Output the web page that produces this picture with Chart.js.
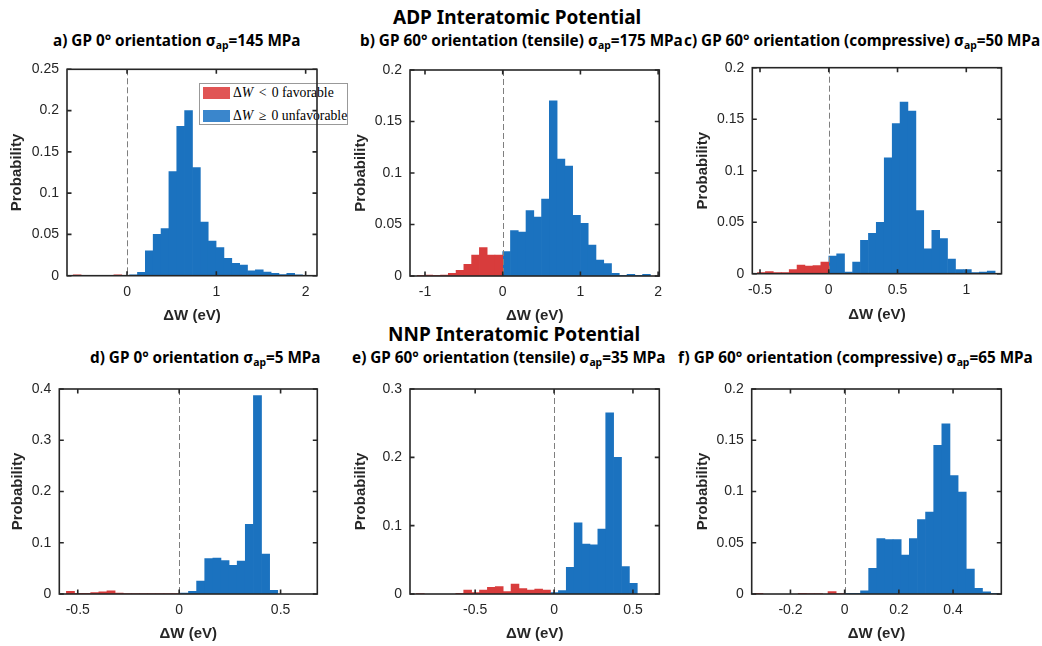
<!DOCTYPE html>
<html>
<head>
<meta charset="utf-8">
<script src="https://cdn.jsdelivr.net/npm/chart.js@4.4.1/dist/chart.umd.min.js"></script>
<style>
  body { margin: 0; background: #fff; width: 1042px; height: 646px; position: relative; overflow: hidden; font-family: 'Noto Sans', sans-serif; }
  canvas { position: absolute; z-index: 2; }
  .t { position: absolute; white-space: nowrap; font-weight: bold; color: #000; line-height: 20px; }
  .h { font-size: 19px; }
  .s { font-size: 15.3px; }
  .t sub { font-size: 68%; vertical-align: -3px; line-height: 0; }
  #leg { position: absolute; left: 199px; top: 83px; width: 147px; height: 40px; border: 1px solid #999; background: #fff; z-index: 1;
         font-family: 'Liberation Serif', serif; font-size: 13.7px; color: #000; }
  #leg .sw { position: absolute; left: 3px; width: 27px; height: 12px; }
  #leg .lt { position: absolute; left: 33px; line-height: 16px; white-space: nowrap; }
  #leg .rel { padding: 0 2px; }
</style>
</head>
<body>

<div class="t h" style="left:393px; top:7px">ADP Interatomic Potential</div>
<div class="t s" style="left:53px; top:30px">a) GP 0° orientation σ<sub>ap</sub>=145 MPa</div>
<div class="t s" style="left:360px; top:30px">b) GP 60° orientation (tensile) σ<sub>ap</sub>=175 MPa</div>
<div class="t s" style="left:684px; top:30px">c) GP 60° orientation (compressive) σ<sub>ap</sub>=50 MPa</div>

<div class="t h" style="left:388px; top:324px">NNP Interatomic Potential</div>
<div class="t s" style="left:90px; top:347px">d) GP 0° orientation σ<sub>ap</sub>=5 MPa</div>
<div class="t s" style="left:352px; top:347px">e) GP 60° orientation (tensile) σ<sub>ap</sub>=35 MPa</div>
<div class="t s" style="left:678px; top:347px">f) GP 60° orientation (compressive) σ<sub>ap</sub>=65 MPa</div>

<div id="leg">
  <span class="sw" style="top:3px; background:#e05454"></span>
  <span class="lt" style="top:1px">Δ<i>W</i> <span class="rel">&lt;</span> 0 favorable</span>
  <span class="sw" style="top:26px; background:#3a86cc"></span>
  <span class="lt" style="top:24px">Δ<i>W</i> <span class="rel">≥</span> 0 unfavorable</span>
</div>

<canvas id="pa" width="345" height="280" style="left:0; top:50px"></canvas>
<canvas id="pb" width="345" height="280" style="left:345px; top:50px"></canvas>
<canvas id="pc" width="352" height="280" style="left:690px; top:50px"></canvas>
<canvas id="pd" width="345" height="276" style="left:0; top:370px"></canvas>
<canvas id="pe" width="345" height="276" style="left:345px; top:370px"></canvas>
<canvas id="pf" width="352" height="276" style="left:690px; top:370px"></canvas>

<script>
// bin centres (eV) and probabilities, red = dW<0, blue = dW>=0

// a) ADP, GP 0 deg, 145 MPa
var aRedX = [-0.558, -0.103];
var aRedY = [0.001, 0.001];
var aBlueX = [0.073, 0.161, 0.249, 0.337, 0.425, 0.513, 0.601, 0.689, 0.777, 0.865, 0.953, 1.041, 1.129, 1.217, 1.305, 1.393, 1.481, 1.569, 1.657, 1.745, 1.833, 1.921];
var aBlueY = [0.001, 0.004, 0.030, 0.050, 0.057, 0.126, 0.181, 0.200, 0.131, 0.065, 0.042, 0.034, 0.021, 0.015, 0.013, 0.006, 0.007, 0.0045, 0.003, 0.0015, 0.003, 0.001];
var aXTicks = [0, 1, 2];
var aYTicks = [0, 0.05, 0.1, 0.15, 0.2, 0.25];

// b) ADP, GP 60 deg tensile, 175 MPa
var bRedX = [-1.05, -0.95, -0.85, -0.75, -0.65, -0.55, -0.45, -0.35, -0.25, -0.15, -0.05];
var bRedY = [0.0006, 0.001, 0.0006, 0.001, 0.0026, 0.0055, 0.0113, 0.0204, 0.0275, 0.0204, 0.0204];
var bBlueX = [0.05, 0.15, 0.25, 0.35, 0.45, 0.55, 0.65, 0.75, 0.85, 0.95, 1.05, 1.15, 1.25, 1.35, 1.45, 1.55, 1.65, 1.75, 1.85];
var bBlueY = [0.0236, 0.044, 0.0427, 0.0634, 0.0573, 0.0748, 0.170, 0.1136, 0.1068, 0.0589, 0.0511, 0.030, 0.0155, 0.012, 0.0026, 0.0006, 0.0016, 0.0006, 0.0016];
var bXTicks = [-1, 0, 1, 2];
var bYTicks = [0, 0.05, 0.1, 0.15, 0.2];

// c) ADP, GP 60 deg compressive, 50 MPa
var cRedX = [-0.490, -0.432, -0.374, -0.317, -0.259, -0.202, -0.144, -0.086, -0.029];
var cRedY = [0.001, 0.002, 0.001, 0.001, 0.0039, 0.0084, 0.0074, 0.008, 0.0113];
var cBlueX = [0.029, 0.086, 0.144, 0.202, 0.259, 0.317, 0.374, 0.432, 0.490, 0.547, 0.605, 0.662, 0.720, 0.778, 0.835, 0.893, 0.950, 1.008, 1.066, 1.123, 1.181];
var cBlueY = [0.0171, 0.0194, 0.0016, 0.0113, 0.0323, 0.0391, 0.0498, 0.1124, 0.1457, 0.1667, 0.158, 0.0614, 0.0242, 0.042, 0.0342, 0.0142, 0.0039, 0.0039, 0.001, 0.0016, 0.0026];
var cXTicks = [-0.5, 0, 0.5, 1];
var cYTicks = [0, 0.05, 0.1, 0.15, 0.2];

// d) NNP, GP 0 deg, 5 MPa
var dRedX = [-0.536, -0.496, -0.456, -0.416, -0.376, -0.336, -0.296, -0.256, -0.216, -0.176, -0.136, -0.095, -0.055, -0.015];
var dRedY = [0.005, 0.0013, 0.0013, 0.003, 0.004, 0.006, 0.002, 0.0007, 0.0007, 0.001, 0.0007, 0.001, 0.0007, 0.001];
var dBlueX = [0.026, 0.066, 0.106, 0.146, 0.186, 0.226, 0.266, 0.306, 0.346, 0.386, 0.426, 0.466];
var dBlueY = [0.002, 0.005, 0.025, 0.069, 0.070, 0.065, 0.056, 0.064, 0.136, 0.387, 0.078, 0.007];
var dXTicks = [-0.5, 0, 0.5];
var dYTicks = [0, 0.1, 0.2, 0.3, 0.4];

// e) NNP, GP 60 deg tensile, 35 MPa
var eRedX = [-0.8475, -0.5975, -0.5475, -0.4975, -0.4475, -0.3975, -0.3475, -0.2975, -0.2475, -0.1975, -0.1475, -0.0975, -0.0475];
var eRedY = [0.0007, 0.001, 0.0059, 0.002, 0.0059, 0.0098, 0.011, 0.0034, 0.0146, 0.0078, 0.0059, 0.0073, 0.0059];
var eBlueX = [0.0025, 0.0525, 0.1025, 0.1525, 0.2025, 0.2525, 0.3025, 0.3525, 0.4025, 0.4525, 0.5025];
var eBlueY = [0.002, 0.005, 0.039, 0.104, 0.073, 0.072, 0.095, 0.265, 0.200, 0.040, 0.0156];
var eXTicks = [-0.5, 0, 0.5];
var eYTicks = [0, 0.1, 0.2, 0.3];

// f) NNP, GP 60 deg compressive, 65 MPa
var fRedX = [-0.3164, -0.1564, -0.1264, -0.0964, -0.0464, -0.0164];
var fRedY = [0.0007, 0.0007, 0.0005, 0.0005, 0.0023, 0.0005];
var fBlueX = [0.0136, 0.0436, 0.0736, 0.1036, 0.1336, 0.1636, 0.1936, 0.2236, 0.2536, 0.2836, 0.3136, 0.3436, 0.3736, 0.4036, 0.4336, 0.4636, 0.4936, 0.5236, 0.5536];
var fBlueY = [0.0007, 0.0007, 0.003, 0.025, 0.054, 0.053, 0.053, 0.038, 0.054, 0.0725, 0.080, 0.145, 0.166, 0.1155, 0.0995, 0.0244, 0.0055, 0.002, 0.0007];
var fXTicks = [-0.2, 0, 0.2, 0.4];
var fYTicks = [0, 0.05, 0.1, 0.15, 0.2];

// layout: canvas box (cx, cy, cw, ch) and plot box (l, t, r, b) in page pixels
var panels = [
  { id: 'pa', rx: aRedX, ry: aRedY, bx: aBlueX, by: aBlueY, xt: aXTicks, yt: aYTicks, xmin: -0.672, xmax: 2.127,
    cx: 0, cy: 50, cw: 345, ch: 280, l: 67, t: 69.3, r: 317, b: 275.7, ytPad: 8, xtPad: 5 },
  { id: 'pb', rx: bRedX, ry: bRedY, bx: bBlueX, by: bBlueY, xt: bXTicks, yt: bYTicks, xmin: -1.193, xmax: 2.015,
    cx: 345, cy: 50, cw: 345, ch: 280, l: 410, t: 70, r: 659.3, b: 276, ytPad: 7, xtPad: 5 },
  { id: 'pc', rx: cRedX, ry: cRedY, bx: cBlueX, by: cBlueY, xt: cXTicks, yt: cYTicks, xmin: -0.556, xmax: 1.256,
    cx: 690, cy: 50, cw: 352, ch: 280, l: 752.3, t: 67.7, r: 1001.5, b: 273.7, ytPad: 4, xtPad: 6 },
  { id: 'pd', rx: dRedX, ry: dRedY, bx: dBlueX, by: dBlueY, xt: dXTicks, yt: dYTicks, xmin: -0.591, xmax: 0.681,
    cx: 0, cy: 370, cw: 345, ch: 276, l: 59.3, t: 389, r: 317.3, b: 594, ytPad: 8.5, xtPad: 3 },
  { id: 'pe', rx: eRedX, ry: eRedY, bx: eBlueX, by: eBlueY, xt: eXTicks, yt: eYTicks, xmin: -0.913, xmax: 0.667,
    cx: 345, cy: 370, cw: 345, ch: 276, l: 410, t: 389, r: 659.3, b: 594, ytPad: 7, xtPad: 3 },
  { id: 'pf', rx: fRedX, ry: fRedY, bx: fBlueX, by: fBlueY, xt: fXTicks, yt: fYTicks, xmin: -0.343, xmax: 0.578,
    cx: 690, cy: 370, cw: 352, ch: 276, l: 751.7, t: 389, r: 1001.3, b: 594, ytPad: 4, xtPad: 3 }
];

var INK = '#262626';

// box, inward ticks on all four sides, dashed line at dW = 0
var framePlugin = {
  id: 'frame',
  afterDatasetsDraw: function (chart) {
    var ctx = chart.ctx, a = chart.chartArea, x = chart.scales.x, y = chart.scales.y;
    ctx.save();
    var x0 = Math.round(x.getPixelForValue(0)) + 0.5;
    ctx.strokeStyle = '#7f7f7f';
    ctx.lineWidth = 1;
    ctx.setLineDash([6, 3]);
    ctx.beginPath();
    ctx.moveTo(x0, a.top);
    ctx.lineTo(x0, a.bottom);
    ctx.stroke();
    ctx.setLineDash([]);
    ctx.strokeStyle = INK;
    ctx.lineWidth = 1.6;
    ctx.strokeRect(a.left, a.top, a.right - a.left, a.bottom - a.top);
    ctx.beginPath();
    x.ticks.forEach(function (t) {
      var px = x.getPixelForValue(t.value);
      ctx.moveTo(px, a.bottom); ctx.lineTo(px, a.bottom - 4.5);
      ctx.moveTo(px, a.top); ctx.lineTo(px, a.top + 4.5);
    });
    y.ticks.forEach(function (t) {
      var py = y.getPixelForValue(t.value);
      ctx.moveTo(a.left, py); ctx.lineTo(a.left + 4.5, py);
      ctx.moveTo(a.right, py); ctx.lineTo(a.right - 4.5, py);
    });
    ctx.stroke();
    ctx.restore();
  }
};

function pts(xs, ys) {
  return xs.map(function (v, i) { return { x: v, y: ys[i] }; });
}

function fmt(v) { return String(+Number(v).toFixed(3)); }

panels.forEach(function (p) {
  new Chart(document.getElementById(p.id), {
    type: 'bar',
    data: {
      datasets: [
        { label: 'ΔW < 0 favorable', data: pts(p.rx, p.ry), backgroundColor: '#d83c3c', grouped: false,
          barPercentage: 1, categoryPercentage: 1, borderWidth: 0 },
        { label: 'ΔW ≥ 0 unfavorable', data: pts(p.bx, p.by), backgroundColor: '#1b72bf', grouped: false,
          barPercentage: 1, categoryPercentage: 1, borderWidth: 0 }
      ]
    },
    options: {
      responsive: false,
      animation: false,
      devicePixelRatio: 1,
      layout: { padding: { left: 0, top: p.t - p.cy, right: p.cx + p.cw - p.r, bottom: 0 } },
      plugins: { legend: { display: false }, tooltip: { enabled: false } },
      scales: {
        x: {
          type: 'linear', offset: false, min: p.xmin, max: p.xmax,
          grid: { display: false, drawTicks: false, tickLength: 0 },
          border: { display: false },
          afterBuildTicks: function (s) { s.ticks = p.xt.map(function (v) { return { value: v }; }); },
          afterFit: function (s) { s.height = p.cy + p.ch - p.b; },
          ticks: { autoSkip: false, maxRotation: 0, padding: 8, color: INK, callback: fmt,
                   font: { family: 'Liberation Sans', size: 14 } },
          title: { display: true, text: 'ΔW (eV)', color: INK, padding: { top: 0, bottom: p.xtPad },
                   font: { family: 'Liberation Sans', size: 15, weight: 'bold', lineHeight: 1.2 } }
        },
        y: {
          min: 0, max: p.yt[p.yt.length - 1],
          grid: { display: false, drawTicks: false, tickLength: 0 },
          border: { display: false },
          afterBuildTicks: function (s) { s.ticks = p.yt.map(function (v) { return { value: v }; }); },
          afterFit: function (s) { s.width = p.l - p.cx; },
          ticks: { padding: 8, color: INK, callback: fmt, font: { family: 'Liberation Sans', size: 14 } },
          title: { display: true, text: 'Probability', color: INK, padding: { top: p.ytPad, bottom: 0 },
                   font: { family: 'Liberation Sans', size: 15, weight: 'bold', lineHeight: 1.2 } }
        }
      }
    },
    plugins: [framePlugin]
  });
});
</script>
</body>
</html>
